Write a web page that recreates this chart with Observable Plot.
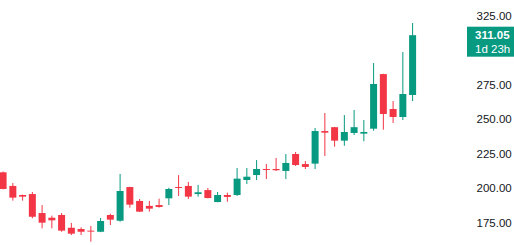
<!DOCTYPE html>
<html>
<head>
<meta charset="utf-8">
<script src="https://cdn.jsdelivr.net/npm/d3@7"></script>
<script src="https://cdn.jsdelivr.net/npm/@observablehq/plot@0.6"></script>
<style>
  html, body { margin: 0; padding: 0; background: #ffffff; }
  #chart { width: 514px; height: 245px; overflow: hidden; }
</style>
</head>
<body>
<div id="chart"></div>
<script>
const opens  = [211.4,201.5,194.9,195.6,181.8,178.4,180.4,171.1,170.2,169.0,168.2,180.4,176.2,200.7,190.6,187.0,187.6,192.5,200.7,201.5,195.6,198.5,189.8,194.9,194.9,205.8,209.4,213.8,213.8,212.4,224.7,217.4,217.7,241.4,244.2,234.4,240.0,239.5,243.1,282.8,257.4,251.6,267.6];
const highs  = [212.0,203.6,195.2,197.1,187.6,179.9,181.8,174.6,171.4,172.4,178.2,181.3,210.2,200.9,192.0,190.6,192.2,200.2,209.4,204.4,202.2,200.0,197.1,196.6,214.5,214.5,220.3,217.4,221.8,224.7,226.2,219.6,243.6,254.5,244.4,253.0,256.7,249.4,290.8,283.0,263.2,298.8,319.9];
const lows   = [199.0,190.8,190.8,178.0,170.7,170.7,168.2,165.8,165.8,161.0,167.9,173.1,175.5,185.7,182.6,182.8,185.7,187.6,194.2,192.0,193.7,192.5,189.6,190.0,194.2,202.9,205.8,206.5,212.4,206.5,216.0,213.8,213.8,223.3,230.0,230.7,238.5,234.0,241.6,242.4,247.2,249.4,263.2];
const closes = [199.3,193.0,193.7,179.1,174.8,176.5,169.0,166.8,168.2,168.3,176.0,177.0,197.8,187.9,182.8,185.0,186.2,199.3,200.0,193.7,196.9,192.7,194.9,193.5,206.8,208.2,213.8,213.1,212.9,218.2,216.7,215.3,241.4,240.2,234.4,240.7,244.2,240.7,275.6,253.8,251.6,268.3,311.05];
const yTicks = [175, 200, 225, 250, 275, 325];
const lastPrice = 311.05;
const countdown = "1d 23h";

const up = "#089981", down = "#F23645";
const candles = opens.map((o, i) => ({
  i, open: o, high: highs[i], low: lows[i], close: closes[i],
  color: closes[i] >= o ? up : down
}));

const plot = Plot.plot({
  width: 514,
  height: 245,
  marginTop: 0, marginBottom: 0, marginLeft: 0, marginRight: 42,
  style: { background: "#ffffff", fontFamily: "'Liberation Sans', Arial, sans-serif", fontSize: "11.5px", color: "#131722" },
  x: { type: "linear", domain: [0, 42], range: [2.6, 412.1], axis: null },
  y: { domain: [175, 325], range: [222.4, 16] },
  marks: [
    Plot.ruleX(candles, { x: "i", y1: "low", y2: "high", stroke: "color", strokeWidth: 1 }),
    Plot.ruleX(candles, { x: "i", y1: "open", y2: "close", stroke: "color", strokeWidth: 7, strokeLinecap: "butt" }),
    Plot.axisY({ anchor: "right", ticks: yTicks, tickSize: 0, tickPadding: 4, tickFormat: d => d.toFixed(2), label: null, fill: "#131722" })
  ]
});
document.getElementById("chart").appendChild(plot);

// current price label
const ys = plot.scale("y");
const yc = ys.apply(lastPrice);
const svg = d3.select(plot);
const g = svg.append("g").attr("text-anchor", "start");
g.append("rect").attr("x", 467).attr("y", yc - 8.5).attr("width", 47).attr("height", 30).attr("fill", up);
g.append("text").attr("x", 475).attr("y", yc).attr("dy", "0.36em")
  .attr("fill", "#ffffff").attr("font-size", 11.5).attr("font-weight", 600)
  .attr("font-family", "'Liberation Sans', Arial, sans-serif")
  .text(lastPrice.toFixed(2));
g.append("text").attr("x", 475).attr("y", yc + 13.5).attr("dy", "0.36em")
  .attr("fill", "#ffffff").attr("font-size", 11.5)
  .attr("font-family", "'Liberation Sans', Arial, sans-serif")
  .text(countdown);
</script>
</body>
</html>
